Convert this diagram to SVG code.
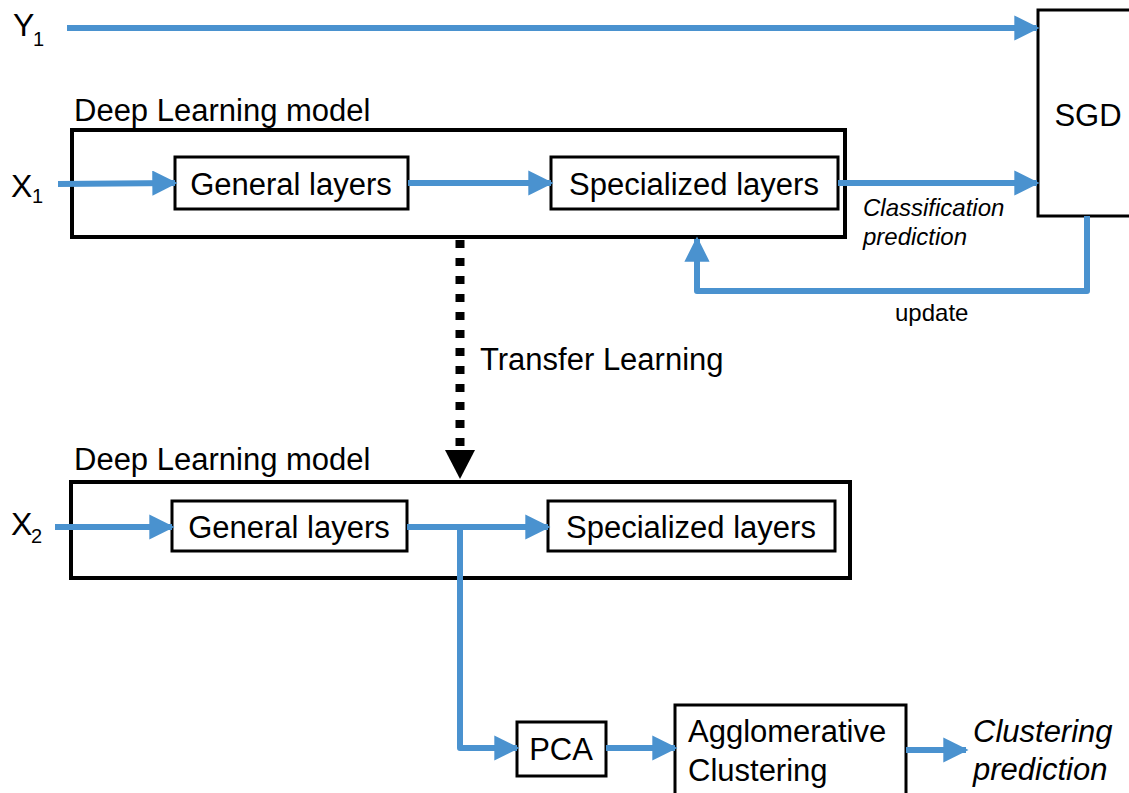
<svg xmlns="http://www.w3.org/2000/svg" width="1129" height="793" viewBox="0 0 1129 793">
  <defs>
    <style>
      text { font-family: "Liberation Sans", Arial, sans-serif; fill: #000; }
      .lbl { font-size: 31px; }
      .mid { text-anchor: middle; }
      .it { font-style: italic; }
      .var { font-size: 32px; }
      .sub { font-size: 20px; }
      .box { fill: #fff; stroke: #000; stroke-width: 3; }
      .outer { fill: none; stroke: #000; stroke-width: 4; }
      .flow { fill: none; stroke: #4a92cf; stroke-width: 6; stroke-linejoin: round; }
      .dots { fill: none; stroke: #000; stroke-width: 9; stroke-dasharray: 8 10; }
    </style>
    <marker id="arrow" viewBox="0 0 10 10" refX="9" refY="5" markerWidth="4.2" markerHeight="4.2" markerUnits="strokeWidth" orient="auto">
      <path d="M0,0 L10,5 L0,10 z" fill="#4a92cf"/>
    </marker>
  </defs>

  <rect width="1129" height="793" fill="#fff"/>

  <!-- input labels -->
  <g id="y1">
    <text class="var" x="13" y="36">Y</text>
    <text class="sub" x="33" y="46">1</text>
  </g>
  <g id="x1">
    <text class="var" x="11" y="197">X</text>
    <text class="sub" x="32" y="203">1</text>
  </g>
  <g id="x2">
    <text class="var" x="11" y="535">X</text>
    <text class="sub" x="31" y="543">2</text>
  </g>

  <!-- upper model -->
  <g id="model1">
    <text class="lbl" x="74" y="121">Deep Learning model</text>
    <rect class="outer" x="72" y="130" width="773" height="107"/>
  </g>
  <g id="general1">
    <rect class="box" x="175" y="157" width="233" height="52"/>
    <text class="lbl mid" x="291" y="195">General layers</text>
  </g>
  <g id="special1">
    <rect class="box" x="551" y="157" width="287" height="52"/>
    <text class="lbl mid" x="694" y="195">Specialized layers</text>
  </g>

  <!-- optimizer -->
  <g id="sgd">
    <rect class="box" x="1038" y="10" width="100" height="206"/>
    <text class="lbl mid" x="1088" y="126">SGD</text>
  </g>

  <!-- lower model -->
  <g id="model2">
    <text class="lbl" x="74" y="470">Deep Learning model</text>
    <rect class="outer" x="71" y="482" width="779" height="96"/>
  </g>
  <g id="general2">
    <rect class="box" x="172" y="501" width="235" height="50"/>
    <text class="lbl mid" x="289" y="538">General layers</text>
  </g>
  <g id="special2">
    <rect class="box" x="548" y="501" width="287" height="50"/>
    <text class="lbl mid" x="691" y="538">Specialized layers</text>
  </g>

  <!-- clustering stage -->
  <g id="pca">
    <rect class="box" x="517" y="722" width="89" height="54"/>
    <text class="lbl mid" x="561" y="760">PCA</text>
  </g>
  <g id="agglomerative">
    <rect class="box" x="675" y="705" width="231" height="100"/>
    <text class="lbl" x="688" y="742">Agglomerative</text>
    <text class="lbl" x="688" y="781">Clustering</text>
  </g>

  <!-- connectors -->
  <g id="connectors">
    <line class="flow" x1="67" y1="28" x2="1037" y2="28" marker-end="url(#arrow)"/>
    <line class="flow" x1="58" y1="184" x2="175" y2="183" marker-end="url(#arrow)"/>
    <line class="flow" x1="408" y1="183" x2="551" y2="183" marker-end="url(#arrow)"/>
    <line class="flow" x1="838" y1="183" x2="1037" y2="183" marker-end="url(#arrow)"/>
    <polyline class="flow" points="1087,216 1087,291 697,291 697,239" marker-end="url(#arrow)"/>

    <line class="dots" x1="460" y1="240" x2="460" y2="452"/>
    <path d="M445,450 L475,450 L460,479 z" fill="#000"/>

    <line class="flow" x1="55" y1="527" x2="172" y2="527" marker-end="url(#arrow)"/>
    <line class="flow" x1="407" y1="527" x2="548" y2="527" marker-end="url(#arrow)"/>
    <polyline class="flow" points="460,527 460,748 517,748" marker-end="url(#arrow)"/>
    <line class="flow" x1="606" y1="748" x2="675" y2="748" marker-end="url(#arrow)"/>
    <line class="flow" x1="906" y1="750" x2="966" y2="750" marker-end="url(#arrow)"/>
  </g>

  <!-- annotations -->
  <g id="annotations">
    <text class="it" x="863" y="216" font-size="24">Classification</text>
    <text class="it" x="863" y="245" font-size="24">prediction</text>
    <text x="895" y="321" font-size="24">update</text>
    <text class="lbl" x="480" y="370">Transfer Learning</text>
    <text class="lbl it" x="973" y="742">Clustering</text>
    <text class="lbl it" x="973" y="780">prediction</text>
  </g>
</svg>
